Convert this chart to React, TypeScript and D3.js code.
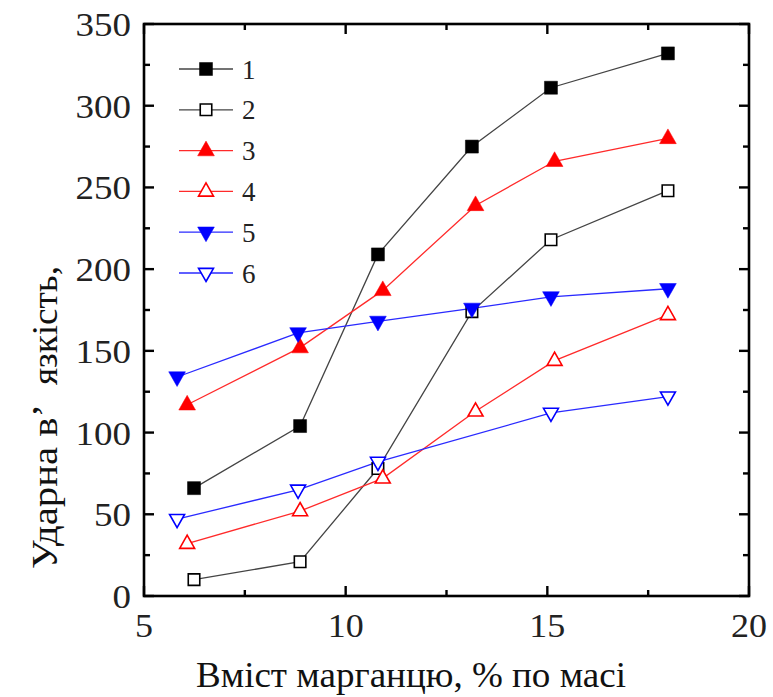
import React from 'react';
import * as d3 from 'd3';

// Mn content, wt.% (x) for each curve
const xMain = [6.24, 8.87, 10.8, 13.13, 15.09, 17.99];
const xTri3 = [6.07, 8.87, 10.92, 13.22, 15.18, 17.99];
const xTri5 = [5.82, 8.82, 10.8, 13.13, 15.09, 17.99];
const xTri6 = [5.82, 8.82, 10.8, 15.09, 17.99];

// impact toughness values
const series1 = [66, 104, 209, 275, 311, 332];
const series2 = [10, 21, 78, 174, 218, 248];
const series3 = [117, 152, 187, 239, 266, 280];
const series4 = [32, 52, 72, 113, 144, 172];
const series5 = [134, 161, 168, 176, 183, 188];
const series6 = [47, 65, 82, 112, 122];

const seriesNames = ['1', '2', '3', '4', '5', '6'];
const xTicks = [5, 10, 15, 20];
const yTicks = [0, 50, 100, 150, 200, 250, 300, 350];

const W = 773;
const H = 697;
const m = { left: 144, right: 749, top: 24, bottom: 596 };
const FONT = 'Liberation Serif';

type Marker = 'square' | 'triUp' | 'triDown';
type Curve = { xs: number[]; ys: number[]; color: string; line: string; marker: Marker; filled: boolean };

const curves: Curve[] = [
  { xs: xMain, ys: series1, color: '#000', line: '#444', marker: 'square', filled: true },
  { xs: xMain, ys: series2, color: '#000', line: '#444', marker: 'square', filled: false },
  { xs: xTri3, ys: series3, color: '#ff0000', line: '#ff2a2a', marker: 'triUp', filled: true },
  { xs: xTri3, ys: series4, color: '#ff0000', line: '#ff2a2a', marker: 'triUp', filled: false },
  { xs: xTri5, ys: series5, color: '#0000ff', line: '#2a2aff', marker: 'triDown', filled: true },
  { xs: xTri6, ys: series6, color: '#0000ff', line: '#2a2aff', marker: 'triDown', filled: false },
];

const x = d3.scaleLinear().domain([5, 20]).range([m.left, m.right]);
const y = d3.scaleLinear().domain([0, 350]).range([m.bottom, m.top]);
const line = d3.line<[number, number]>().x(d => x(d[0])).y(d => y(d[1]));

const symbolPath = (mk: Marker, filled: boolean) => {
  if (mk === 'square') {
    const s = filled ? 13 : 11.5;
    return `M${-s / 2},${-s / 2}h${s}v${s}h${-s}Z`;
  }
  const r = filled ? 9.5 : 8.5;
  const h = r * 0.88;
  return mk === 'triUp'
    ? `M0,${-r}L${h},${r * 0.55}L${-h},${r * 0.55}Z`
    : `M0,${r}L${h},${-r * 0.55}L${-h},${-r * 0.55}Z`;
};

const MarkerMark = ({ cx, cy, c }: { cx: number; cy: number; c: Curve }) => (
  <path
    transform={`translate(${cx},${cy})`}
    d={symbolPath(c.marker, c.filled)}
    fill={c.filled ? c.color : '#fff'}
    stroke={c.color}
    strokeWidth={c.filled ? 0.5 : 1.6}
  />
);

const App = () => {
  const xMinor = d3.range(5, 20.01, 2.5);
  const yMinor = d3.range(0, 350.01, 25);
  return (
    <svg width={W} height={H} style={{ position: 'absolute', left: 0, top: 0, background: '#fff' }}>
      {/* curves */}
      {curves.map((c, k) => (
        <path
          key={'l' + k}
          d={line(c.xs.map((v, i) => [v, c.ys[i]] as [number, number])) || ''}
          fill="none"
          stroke={c.line}
          strokeWidth={1.3}
        />
      ))}
      {curves.map((c, k) =>
        c.xs.map((v, i) => <MarkerMark key={`m${k}-${i}`} cx={x(v)} cy={y(c.ys[i])} c={c} />)
      )}

      {/* legend */}
      {curves.map((c, i) => {
        const ly = 69 + i * 40.8;
        return (
          <g key={'lg' + i}>
            <line x1={179} x2={233} y1={ly} y2={ly} stroke={c.line} strokeWidth={1.3} />
            <MarkerMark cx={206} cy={ly} c={c} />
            <text x={242} y={ly + 9.5} fontFamily={FONT} fontSize={27} fill="#222">
              {seriesNames[i]}
            </text>
          </g>
        );
      })}

      {/* frame and ticks */}
      <rect
        x={m.left}
        y={m.top}
        width={m.right - m.left}
        height={m.bottom - m.top}
        fill="none"
        stroke="#000"
        strokeWidth={2.6}
      />
      <g stroke="#000" strokeWidth={2.4}>
        {xMinor.map(v => {
          const len = v % 5 === 0 ? 10 : 6;
          return (
            <g key={'xt' + v}>
              <line x1={x(v)} x2={x(v)} y1={m.bottom} y2={m.bottom - len} />
              <line x1={x(v)} x2={x(v)} y1={m.top} y2={m.top + len} />
            </g>
          );
        })}
        {yMinor.map(v => {
          const len = v % 50 === 0 ? 10 : 6;
          return (
            <g key={'yt' + v}>
              <line x1={m.left} x2={m.left + len} y1={y(v)} y2={y(v)} />
              <line x1={m.right} x2={m.right - len} y1={y(v)} y2={y(v)} />
            </g>
          );
        })}
      </g>

      {/* tick labels */}
      <g fontFamily={FONT} fontSize={34} fill="#222">
        {xTicks.map(v => (
          <text
            key={'xl' + v}
            x={x(v)}
            y={637}
            textAnchor="middle"
            textLength={String(v).length * 18}
            lengthAdjust="spacingAndGlyphs"
          >
            {v}
          </text>
        ))}
        {yTicks.map(v => (
          <text
            key={'yl' + v}
            x={131}
            y={y(v) + 12}
            textAnchor="end"
            textLength={String(v).length * 18.5}
            lengthAdjust="spacingAndGlyphs"
          >
            {v}
          </text>
        ))}
      </g>

      {/* axis titles */}
      <text
        x={411}
        y={687}
        textAnchor="middle"
        fontFamily={FONT}
        fontSize={35}
        fill="#111"
        textLength={430}
        lengthAdjust="spacingAndGlyphs"
      >
        Вміст марганцю, % по масі
      </text>
      <g fontFamily={FONT} fontSize={35} fill="#111">
        <text
          transform="translate(57,569) rotate(-90)"
          textLength={165}
          lengthAdjust="spacingAndGlyphs"
        >
          Ударна в’
        </text>
        <text
          transform="translate(57,385) rotate(-90)"
          textLength={119}
          lengthAdjust="spacingAndGlyphs"
        >
          язкість,
        </text>
      </g>
    </svg>
  );
};

export default App;
